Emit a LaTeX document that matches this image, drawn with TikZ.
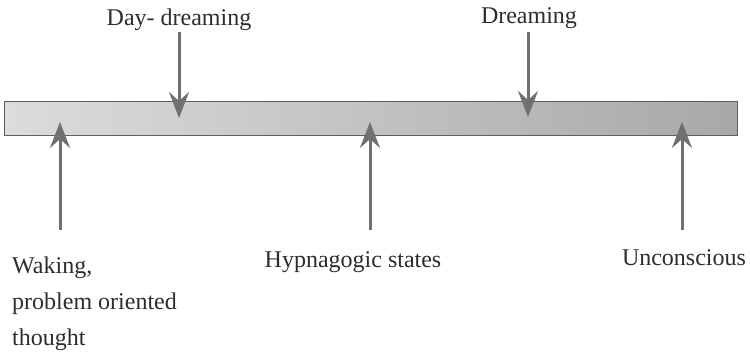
\documentclass[tikz,border=0pt]{standalone}
\usepackage{fontspec}
\setmainfont{Liberation Serif}
\usetikzlibrary{arrows.meta}
\definecolor{arrgray}{RGB}{112,112,112}
\definecolor{txtgray}{RGB}{45,45,45}
\definecolor{barleft}{RGB}{220,220,220}
\definecolor{barright}{RGB}{168,168,168}
\definecolor{barborder}{RGB}{95,95,95}
\tikzset{
  lbl/.style={inner sep=0pt, text=txtgray, font=\fontsize{24}{36}\selectfont},
  pointer/.style={draw=arrgray, line width=3pt,
    -{Stealth[length=26pt, width=20pt, inset=9pt, fill=arrgray]}},
  barbox/.style={draw=barborder, line width=1.5pt, left color=barleft,
    right color=barright, minimum width=733pt, minimum height=34pt, inner sep=0pt}
}
\begin{document}
\begin{tikzpicture}[x=1pt,y=-1pt]
\useasboundingbox (0,0) rectangle (750,354);
\node[barbox] (bar) at (371,118.5) {};
% top labels
\node[lbl, anchor=base] (dd) at (179,25) {Day- dreaming};
\node[lbl, anchor=base] (dr) at (529,23) {Dreaming};
% bottom labels
\node[lbl, anchor=north west, align=left] (wk) at (12,256.6) {Waking,\\problem oriented\\thought};
\node[lbl, anchor=base] (hy) at (353,267) {Hypnagogic states};
\node[lbl, anchor=base] (un) at (684,265) {Unconscious};
% arrow end points
\coordinate (ddS) at (179,32);
\coordinate (ddT) at (179,118);
\coordinate (drS) at (528,32);
\coordinate (drT) at (528,117);
\coordinate (wkS) at (60,230);
\coordinate (wkT) at (60,122);
\coordinate (hyS) at (370,230);
\coordinate (hyT) at (370,122);
\coordinate (unS) at (682,230);
\coordinate (unT) at (682,122);
\draw[pointer] (ddS) -- (ddT);
\draw[pointer] (drS) -- (drT);
\draw[pointer] (wkS) -- (wkT);
\draw[pointer] (hyS) -- (hyT);
\draw[pointer] (unS) -- (unT);
\end{tikzpicture}
\end{document}
